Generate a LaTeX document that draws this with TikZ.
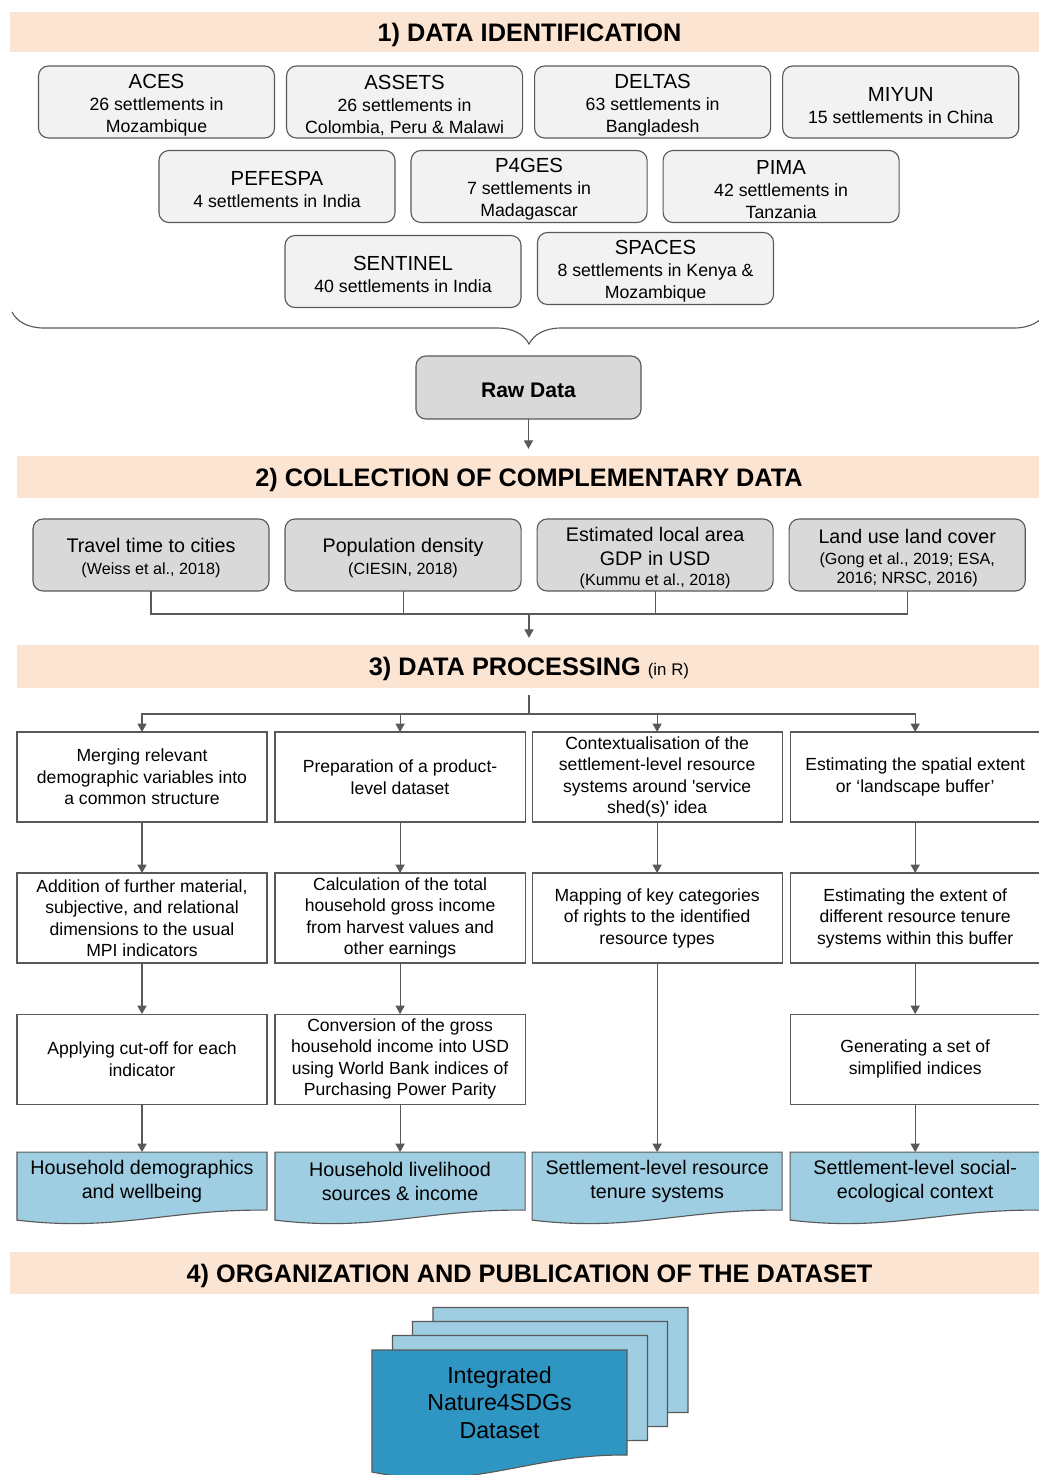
\documentclass[tikz,border=0pt]{standalone}
\usepackage{fontspec}
\setmainfont{Liberation Sans}
\usepackage{tikz}
\usetikzlibrary{arrows.meta}
\usetikzlibrary{positioning}
\usetikzlibrary{calc}
\usetikzlibrary{backgrounds}
\usetikzlibrary{decorations.pathreplacing}
\definecolor{peach}{HTML}{FCE4D2}
\definecolor{edge}{HTML}{595959}
\definecolor{lightbox}{HTML}{F2F2F2}
\definecolor{greybox}{HTML}{D9D9D9}
\definecolor{paleblue}{HTML}{9FCDE2}
\definecolor{deepblue}{HTML}{2F96C3}
\newcommand{\topstrut}{\rule{0pt}{14.5pt}}
\newcommand{\refsize}{\fontsize{11.5}{13}\selectfont}
\newcommand{\projname}{\fontsize{14.5}{16}\selectfont\topstrut}
% wavy bottom of a document sheet, drawn behind the node #1
\newcommand{\docoutline}[3]{%
  \begin{scope}[on background layer]
  \filldraw[draw=edge,line width=0.8pt,fill=#2] (#1.north west) -- (#1.north east) -- (#1.south east)
    .. controls ($(#1.south east)!0.4!(#1.south west)+(0,-1)$) and ($(#1.south east)!0.6!(#1.south west)+(0,2.2*#3)$) .. ($(#1.south west)+(0,#3)$) -- cycle;
  \end{scope}}

\begin{document}
\begin{tikzpicture}[x=0.025cm,y=-0.025cm,every node/.style={inner sep=0pt,outer sep=0pt},
  band/.style={fill=peach,minimum height=1.05cm,text depth=0pt,font=\fontsize{18}{21}\selectfont\bfseries},
  proj/.style={draw=edge,fill=lightbox,line width=0.8pt,rounded corners=0.25cm,minimum width=5.9cm,minimum height=1.8cm,align=center,font=\fontsize{12.6}{15.6}\selectfont},
  src/.style={proj,fill=greybox,font=\fontsize{14}{17}\selectfont},
  proc/.style={draw=edge,fill=white,line width=0.8pt,minimum width=6.25cm,minimum height=2.25cm,align=center,font=\fontsize{12.5}{15.3}\selectfont},
  outp/.style={minimum width=6.25cm,minimum height=1.45cm,align=center,font=\fontsize{14}{17}\selectfont},
  sheet/.style={minimum width=6.375cm,minimum height=2.625cm},
  conn/.style={draw=edge,line width=0.8pt},
  arrow/.style={conn,-{Triangle[width=6.5pt,length=6pt]}}]
  \useasboundingbox (0,0) rectangle (1039,1475);

  % 1) projects
  \node[band,minimum width=25.975cm,minimum height=1cm] (b1) at (529.5,32) {1) DATA IDENTIFICATION};
  \node[proj] (aces) at (156.5,102) {{\projname ACES}\\26 settlements in\\Mozambique};
  \node[proj,right=0.3cm of aces] (assets) {{\projname ASSETS}\\26 settlements in\\Colombia, Peru \& Malawi};
  \node[proj,right=0.3cm of assets] (deltas) {{\projname DELTAS}\\63 settlements in\\Bangladesh};
  \node[proj,right=0.3cm of deltas] (miyun) {{\projname MIYUN}\\15 settlements in China};
  \node[proj] (pefespa) at (277,186.5) {{\projname PEFESPA}\\4 settlements in India};
  \node[proj,right=0.4cm of pefespa] (p4ges) {{\projname P4GES}\\7 settlements in\\Madagascar};
  \node[proj,right=0.4cm of p4ges] (pima) {{\projname PIMA}\\42 settlements in\\Tanzania};
  \node[proj] (sentinel) at (403,271.5) {{\projname SENTINEL}\\40 settlements in India};
  \node[proj] (spaces) at (655.5,268.5) {{\projname SPACES}\\8 settlements in Kenya \&\\Mozambique};
  \draw[conn,decorate,decoration={brace,mirror,amplitude=0.8cm}] (12,312) -- (1046,312);
  \node[proj,fill=greybox,minimum width=5.625cm,minimum height=1.575cm,font=\fontsize{15}{18}\selectfont\bfseries] (raw) at (528.5,387.5) {\topstrut Raw Data};

  % 2) complementary data
  \node[band,minimum width=25.6cm] (b2) at (529,477) {2) COLLECTION OF COMPLEMENTARY DATA};
  \draw[arrow,shorten >=0.18cm] (raw.south) -- (raw.south |- b2.north);
  \node[src] (travel) at (151,555) {\topstrut Travel time to cities\\[-2pt]{\refsize (Weiss et al., 2018)}};
  \node[src,right=0.4cm of travel] (popden) {\topstrut Population density\\[-2pt]{\refsize (CIESIN, 2018)}};
  \node[src,right=0.4cm of popden] (gdp) {\topstrut Estimated local area\\GDP in USD\\[-3pt]{\refsize (Kummu et al., 2018)}};
  \node[src,right=0.4cm of gdp] (lulc) {\topstrut Land use land cover\\[-2pt]{\refsize (Gong et al., 2019; ESA,}\\[-3.5pt]{\refsize 2016; NRSC, 2016)}};
  \coordinate (j2) at (529,614);
  \draw[conn] (travel) |- (j2);
  \draw[conn] (popden) |- (j2);
  \draw[conn] (gdp) |- (j2);
  \draw[conn] (lulc) |- (j2);

  % 3) processing
  \node[band,minimum width=25.6cm,minimum height=1.075cm] (b3) at (529,666.5) {3) DATA PROCESSING {\mdseries\fontsize{12}{14}\selectfont (in R)}};
  \draw[arrow,shorten >=0.18cm] (j2) -- (j2 |- b3.north);
  \node[proc] (p1a) at (142,777) {Merging relevant\\demographic variables into\\a common structure};
  \node[proc,right=0.2cm of p1a] (p2a) {Preparation of a product-\\level dataset};
  \node[proc,right=0.175cm of p2a] (p3a) {Contextualisation of the\\settlement-level resource\\systems around \textquotesingle service\\shed(s)\textquotesingle\ idea};
  \node[proc,right=0.2cm of p3a] (p4a) {Estimating the spatial extent\\or ‘landscape buffer’};
  \node[proc,below=1.275cm of p1a] (p1b) {Addition of further material,\\subjective, and relational\\dimensions to the usual\\MPI indicators};
  \node[proc,below=1.275cm of p2a] (p2b) {Calculation of the total\\household gross income\\from harvest values and\\other earnings};
  \node[proc,below=1.275cm of p3a] (p3b) {Mapping of key categories\\of rights to the identified\\resource types};
  \node[proc,below=1.275cm of p4a] (p4b) {Estimating the extent of\\different resource tenure\\systems within this buffer};
  \node[proc,below=1.275cm of p1b] (p1c) {Applying cut-off for each\\indicator};
  \node[proc,below=1.275cm of p2b] (p2c) {Conversion of the gross\\household income into USD\\using World Bank indices of\\Purchasing Power Parity};
  \node[proc,below=1.275cm of p4b] (p4c) {Generating a set of\\simplified indices};
  \coordinate (top3) at (529,695);
  \coordinate (j3) at (529,714);
  \draw[conn] (top3) -- (j3);
  \draw[arrow] (j3) -| (p1a);
  \draw[arrow] (j3) -| (p2a);
  \draw[arrow] (j3) -| (p3a);
  \draw[arrow] (j3) -| (p4a);
  \draw[arrow] (p1a) -- (p1b);
  \draw[arrow] (p2a) -- (p2b);
  \draw[arrow] (p3a) -- (p3b);
  \draw[arrow] (p4a) -- (p4b);
  \draw[arrow] (p1b) -- (p1c);
  \draw[arrow] (p2b) -- (p2c);
  \draw[arrow] (p4b) -- (p4c);

  \node[outp,below=1.2cm of p1c] (o1) {Household demographics\\and wellbeing};
  \node[outp,below=1.2cm of p2c] (o2) {Household livelihood\\sources \& income};
  \node[outp,right=0.175cm of o2] (o3) {Settlement-level resource\\tenure systems};
  \node[outp,below=1.2cm of p4c] (o4) {Settlement-level social-\\ecological context};
  \docoutline{o1}{paleblue}{10}
  \docoutline{o2}{paleblue}{10}
  \docoutline{o3}{paleblue}{10}
  \docoutline{o4}{paleblue}{10}
  \draw[arrow] (p1c) -- (o1);
  \draw[arrow] (p2c) -- (o2);
  \draw[arrow] (p3b) -- (o3);
  \draw[arrow] (p4c) -- (o4);

  % 4) publication
  \node[band,minimum width=25.975cm] (b4) at (529.5,1273) {4) ORGANIZATION AND PUBLICATION OF THE DATASET};
  \node[sheet] (s1) at (560.5,1360) {};
  \node[sheet] (s2) at (540,1374) {};
  \node[sheet] (s3) at (520,1388) {};
  \node[sheet,align=center,font=\fontsize{16.5}{19.6}\selectfont] (final) at (499.5,1402.5) {Integrated\\Nature4SDGs\\Dataset};
  \docoutline{s1}{paleblue}{10}
  \docoutline{s2}{paleblue}{10}
  \docoutline{s3}{paleblue}{10}
  \docoutline{final}{deepblue}{17}
\end{tikzpicture}
\end{document}
